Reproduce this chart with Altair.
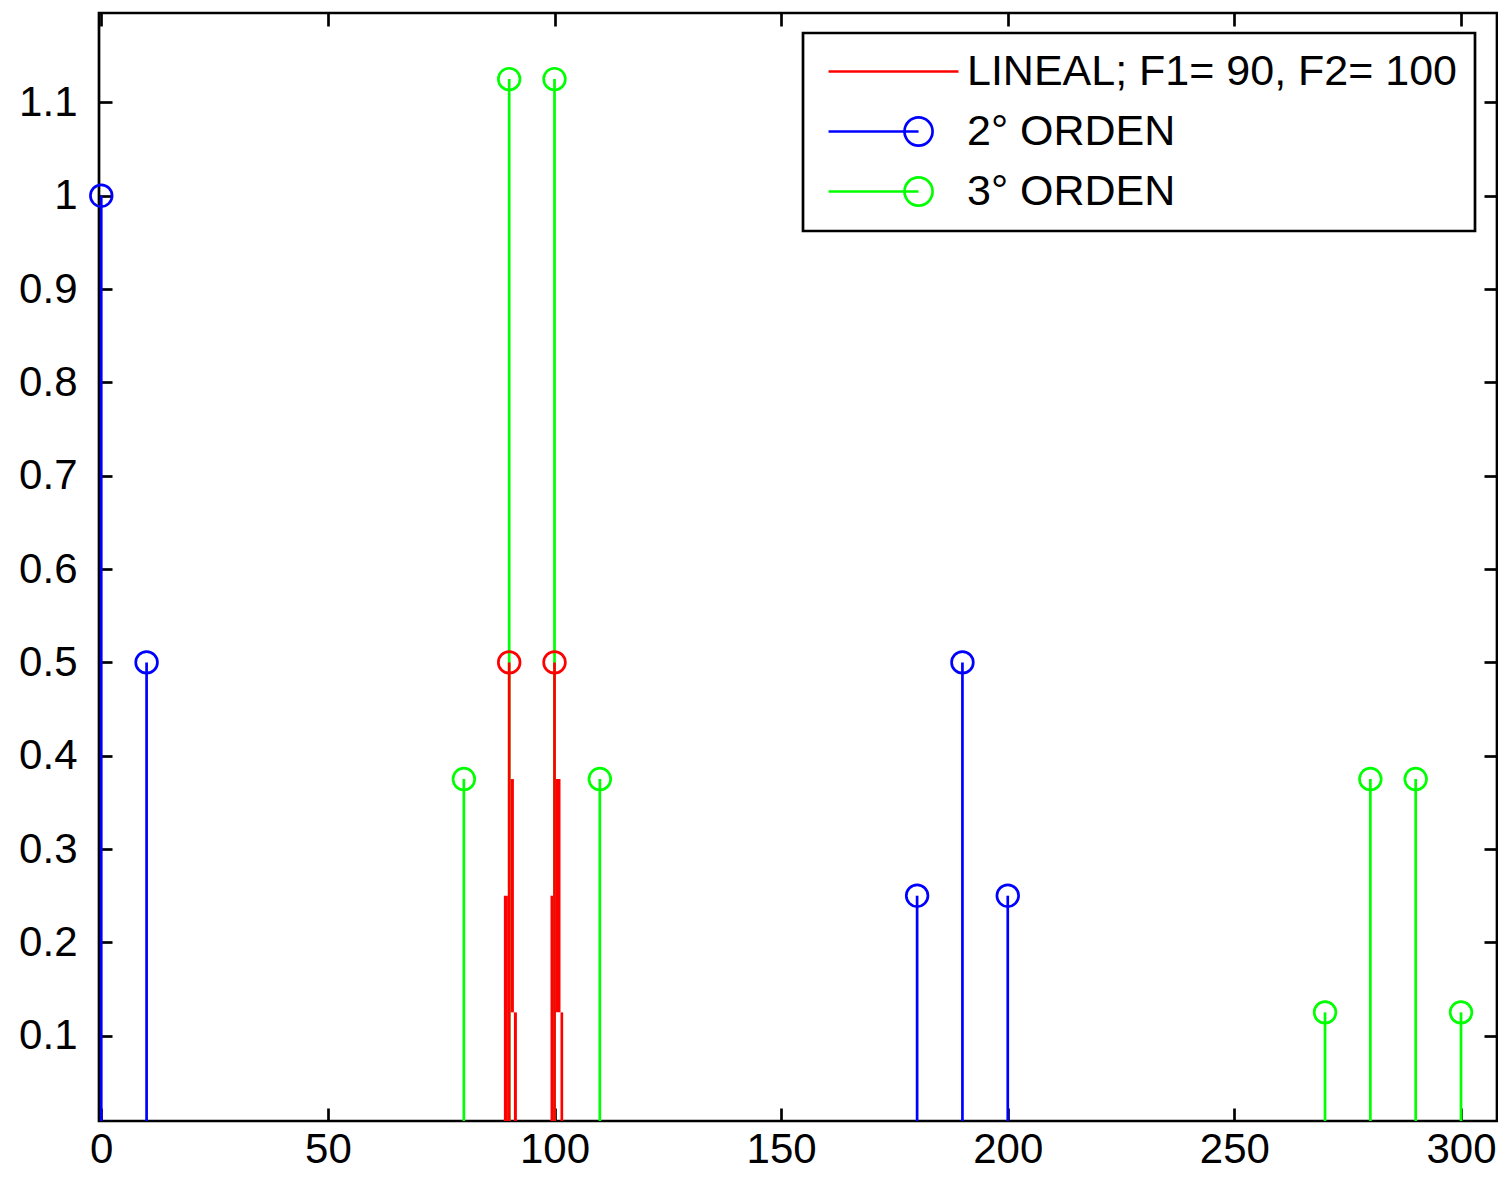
import altair as alt
import pandas as pd

# ---- data ----
labels = ["LINEAL; F1= 90, F2= 100", "2° ORDEN", "3° ORDEN"]
colors = ["#ff0000", "#0000ff", "#00ff00"]

# LINEAL (red): stems with circles
lin_x = [90, 100]
lin_y = [0.5, 0.5]
# LINEAL (red): narrow filled pieces next to the stems
lin_blk_x1 = [88.83, 90.31, 91.04, 99.12, 100.29, 101.32]
lin_blk_x2 = [89.71, 91.04, 91.70, 99.71, 101.32, 101.91]
lin_blk_lo = [0.0, 0.125, 0.0, 0.0, 0.125, 0.0]
lin_blk_hi = [0.25, 0.375, 0.125, 0.25, 0.375, 0.125]

# 2° ORDEN (blue)
ord2_x = [0, 10, 180, 190, 200]
ord2_y = [1.0, 0.5, 0.25, 0.5, 0.25]

# 3° ORDEN (green)
ord3_x = [80, 90, 100, 110, 270, 280, 290, 300]
ord3_y = [0.375, 1.125, 1.125, 0.375, 0.125, 0.375, 0.375, 0.125]

x_ticks = [0, 50, 100, 150, 200, 250, 300]
y_ticks = [0.1, 0.2, 0.3, 0.4, 0.5, 0.6, 0.7, 0.8, 0.9, 1.0, 1.1]
x_domain = [-0.5, 307.94]
y_domain = [0.0086, 1.1958]

# ---- tables ----
def stems(xs, ys, name):
    return pd.DataFrame({"x": xs, "y": ys, "base": [0.0] * len(xs), "series": [name] * len(xs)})

lin_df = stems(lin_x, lin_y, labels[0])
o2_df = stems(ord2_x, ord2_y, labels[1])
o3_df = stems(ord3_x, ord3_y, labels[2])
blk_df = pd.DataFrame({"x1": lin_blk_x1, "x2": lin_blk_x2, "lo": lin_blk_lo, "hi": lin_blk_hi})
all_df = pd.concat([lin_df, o2_df, o3_df], ignore_index=True)

FONT = "Liberation Sans"
LW = 2.7
TICK = 13

xs = alt.Scale(domain=x_domain, nice=False, zero=False)
ys = alt.Scale(domain=y_domain, nice=False, zero=False)

common_axis = dict(
    title=None, domain=False, grid=False, offset=-TICK, tickSize=TICK, tickWidth=LW,
    tickColor="black", labelFont=FONT, labelFontSize=42, labelColor="black",
    labelFlush=False, labelOverlap=False,
)
ax_bottom = alt.Axis(orient="bottom", values=x_ticks, format="d", labelPadding=8, **common_axis)
ax_top = alt.Axis(orient="top", values=x_ticks, labels=False, **common_axis)
ax_left = alt.Axis(orient="left", values=y_ticks, format=".1~f", labelPadding=22, **common_axis)
ax_right = alt.Axis(orient="right", values=y_ticks, labels=False, **common_axis)


def stem_layer(df, color, xaxis=None, yaxis=None):
    return alt.Chart(df).mark_rule(color=color, strokeWidth=LW, clip=True).encode(
        x=alt.X("x:Q", scale=xs, axis=xaxis),
        y=alt.Y("y:Q", scale=ys, axis=yaxis),
        y2="base:Q",
    )


def circle_layer(df, color):
    return alt.Chart(df).mark_point(
        shape="circle", filled=False, color=color, size=470, strokeWidth=LW, opacity=1
    ).encode(
        x=alt.X("x:Q", scale=xs, axis=None),
        y=alt.Y("y:Q", scale=ys, axis=None),
    )


g_stems = stem_layer(o3_df, colors[2], ax_bottom, ax_left)
b_stems = stem_layer(o2_df, colors[1], ax_top, ax_right)
r_stems = stem_layer(lin_df, colors[0])
r_blocks = alt.Chart(blk_df).mark_rect(color=colors[0], clip=True).encode(
    x=alt.X("x1:Q", scale=xs, axis=None),
    x2="x2:Q",
    y=alt.Y("lo:Q", scale=ys, axis=None),
    y2="hi:Q",
)

# legend symbols: line only for LINEAL, line ending in a circle for the others
line_only = "M-0.72,0H6.5"
line_circ = "M-0.72,0H4.28M5.06,0A0.78,0.78,0,1,1,3.5,0A0.78,0.78,0,1,1,5.06,0"

leg = alt.Legend(
    title=None, orient="none", legendX=704, legendY=20, direction="vertical",
    padding=17, fillColor="white", strokeColor="black",
    labelFont=FONT, labelFontSize=43, labelColor="black", labelOffset=104, labelLimit=0,
    rowPadding=16, symbolSize=1296, symbolStrokeWidth=LW, symbolOpacity=1,
)
legend_layer = alt.Chart(all_df).mark_point(filled=False, opacity=0).encode(
    x=alt.X("x:Q", scale=xs, axis=None),
    y=alt.Y("y:Q", scale=ys, axis=None),
    color=alt.Color("series:N", scale=alt.Scale(domain=labels, range=colors), legend=leg),
    shape=alt.Shape("series:N", scale=alt.Scale(domain=labels, range=[line_only, line_circ, line_circ]), legend=leg),
)

chart = alt.layer(
    g_stems, b_stems, r_stems, r_blocks,
    circle_layer(o3_df, colors[2]), circle_layer(o2_df, colors[1]), circle_layer(lin_df, colors[0]),
    legend_layer,
).resolve_axis(x="independent", y="independent").properties(
    width=1398, height=1108,
    autosize=alt.AutoSizeParams(type="none"),
    padding={"left": 91, "top": 5, "right": 1, "bottom": 54},
    background="white",
).configure_view(stroke="black", strokeWidth=LW).configure_legend(strokeWidth=LW)

chart.save("out.html", embed_options={"renderer": "svg", "actions": False})
